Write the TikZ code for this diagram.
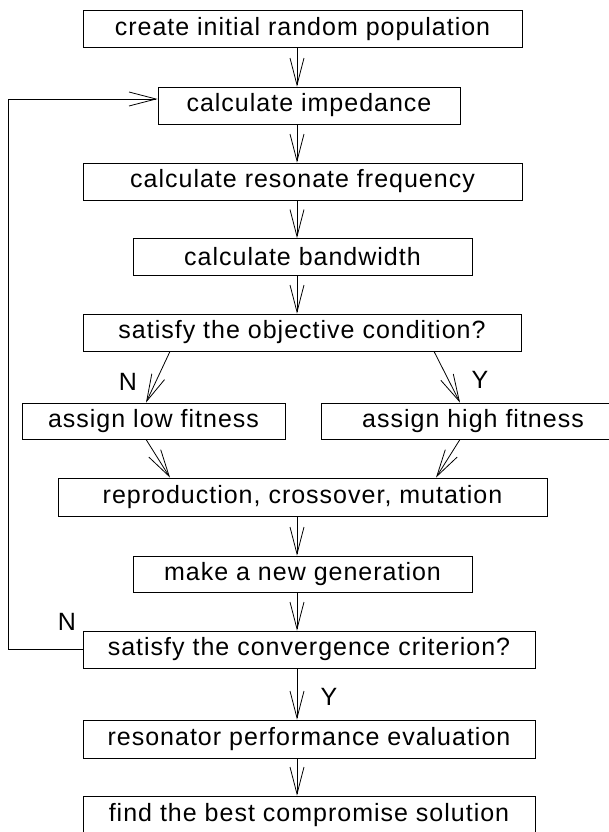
\documentclass[tikz,border=0pt]{standalone}
\usepackage{fontspec}
\setmainfont{Liberation Sans}[LetterSpace=4]
\usetikzlibrary{arrows.meta}

\tikzset{
  stepbox/.style={draw, line width=0.8pt, minimum height=37pt, inner sep=0pt},
  flow/.style={-{Straight Barb[length=27pt,width=14pt]}, line width=0.8pt},
}

\begin{document}
\begin{tikzpicture}[x=1pt,y=-1pt,font=\fontsize{25}{28}\selectfont]
  \useasboundingbox (0,0) rectangle (609,832);
  \coordinate (arrx) at (297,0);
  \coordinate (loop) at (8,0);
  % main column
  \node[stepbox,minimum width=439pt] (init) at (302.5,29) {create initial random population};
  \node[stepbox,minimum width=302pt] (imped) at (309,105.5) {calculate impedance};
  \node[stepbox,minimum width=439pt] (freq) at (302.5,181.5) {calculate resonate frequency};
  \node[stepbox,minimum width=339pt] (bandw) at (302.5,257) {calculate bandwidth};
  \node[stepbox,minimum width=438pt] (obj) at (302,332.5) {satisfy the objective condition?};
  % branches
  \node[stepbox,minimum width=263pt,minimum height=36pt] (low) at (153.5,421) {assign low fitness};
  \node[stepbox,minimum width=304pt,minimum height=36pt] (high) at (473,421) {assign high fitness};
  \node[stepbox,minimum width=489pt,minimum height=38pt] (repro) at (302.5,497) {reproduction, crossover, mutation};
  \node[stepbox,minimum width=339pt,minimum height=36pt] (newgen) at (302.5,574) {make a new generation};
  \node[stepbox,minimum width=452pt] (conv) at (309,649.5) {satisfy the convergence criterion?};
  \node[stepbox,minimum width=452pt,minimum height=38pt] (reson) at (309,739) {resonator performance evaluation};
  \node[stepbox,minimum width=452pt,minimum height=38pt] (best) at (309,815) {find the best compromise solution};
  % Y/N labels
  \node (objN) at (128,382) {N};
  \node (objY) at (480,380) {Y};
  \node (convN) at (67,622) {N};
  \node (convY) at (329,697) {Y};
  % connectors
  \draw[flow] (init.south -| arrx) -- (imped.north -| arrx);
  \draw[flow] (imped.south -| arrx) -- (freq.north -| arrx);
  \draw[flow] (freq.south -| arrx) -- (bandw.north -| arrx);
  \draw[flow] (bandw.south -| arrx) -- (obj.north -| arrx);
  \draw[flow] ([xshift=-132pt]obj.south) -- ([xshift=-7.5pt]low.north);
  \draw[flow] ([xshift=132pt]obj.south) -- ([xshift=-13pt]high.north);
  \draw[flow] ([xshift=-7.5pt]low.south) -- ([xshift=-132.5pt]repro.north);
  \draw[flow] ([xshift=-13pt]high.south) -- ([xshift=133.5pt]repro.north);
  \draw[flow] (repro.south -| arrx) -- (newgen.north -| arrx);
  \draw[flow] (newgen.south -| arrx) -- (conv.north -| arrx);
  \draw[flow] (conv.south -| arrx) -- (reson.north -| arrx);
  \draw[flow] (reson.south -| arrx) -- (best.north -| arrx);
  \draw[flow] (conv.west) -- (conv.west -| loop) |- ([yshift=6.5pt]imped.west);
\end{tikzpicture}
\end{document}
